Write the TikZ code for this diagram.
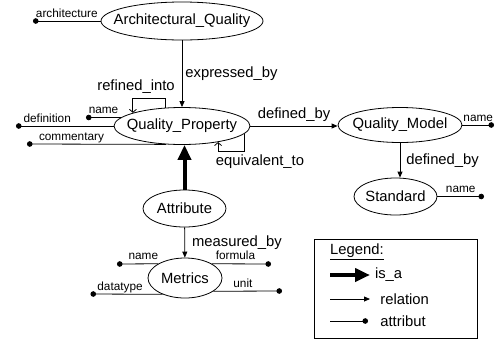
\documentclass[tikz,border=0pt]{standalone}
\usepackage{fontspec}
\setmainfont{Liberation Sans}
\usetikzlibrary{arrows.meta, shapes.geometric}
\newcommand{\bigf}{\fontsize{14.8}{17}\selectfont}
\newcommand{\smallf}{\fontsize{11.8}{13}\selectfont}
\newcommand{\ctext}[1]{\makebox[0pt]{#1}}
\tikzset{
  entity/.style={draw, ellipse, inner sep=0pt, line width=0.8pt, font=\bigf},
  rel/.style={-{Triangle[length=6pt,width=5pt]}, line width=0.8pt},
  isa/.style={-{Triangle[length=15pt,width=13pt]}, line width=4pt},
  selfrel/.style={-{Straight Barb[length=3pt,width=7pt]}, line width=0.8pt},
  attrib/.style={-{Circle[length=5.5pt]}, line width=0.8pt},
  rlabel/.style={font=\bigf, inner sep=3pt},
  alabel/.style={font=\smallf, inner sep=0pt, text depth=0pt, anchor=south, yshift=3.5pt},
}

\begin{document}
\begin{tikzpicture}[x=1pt, y=-1pt]
        \useasboundingbox (0,0) rectangle (496,341);

        % entities
        \node[entity, minimum width=162, minimum height=38] (arch) at (182,21) {\ctext{Architectural\_Quality}};
        \node[entity, minimum width=136, minimum height=37] (qprop) at (182,126) {\ctext{Quality\_Property}};
        \node[entity, minimum width=124, minimum height=35] (qmodel) at (400,125) {\ctext{Quality\_Model}};
        \node[entity, minimum width=83, minimum height=37] (std) at (395.5,196.5) {\ctext{Standard}};
        \node[entity, minimum width=83, minimum height=37] (attr) at (184.5,208.5) {\ctext{Attribute}};
        \node[entity, minimum width=74, minimum height=40] (metrics) at (185,278) {\ctext{Metrics}};

        % relations
        \draw[rel] (arch) -- node[rlabel, right] {expressed\_by} (qprop);
        \draw[rel] (qprop.east) -- node[rlabel, above, text depth=0pt, yshift=4pt] {defined\_by} (qprop.east -| qmodel.west);
        \draw[rel] (qmodel.south) -- node[rlabel, right, xshift=3pt] {defined\_by} (qmodel.south |- std.north);
        \draw[rel] (attr) -- node[rlabel, right, xshift=4pt] {measured\_by} (metrics);
        \draw[isa] (attr.north) -- (attr.north |- qprop.south);

        \draw[selfrel] (qprop.132) -- ++(0,-9) -| (qprop.165);
        \node[rlabel] (refl) at (136,87) {refined\_into};
        \draw[selfrel] (qprop.-7) -- ++(0,17.5) -| (qprop.-24);
        \node[rlabel] (equl) at (260,162) {equivalent\_to};

        % attributes
        \coordinate (archdot) at (33,21);
        \coordinate (qpname) at (86,117.5);
        \coordinate (qpdef) at (16,126);
        \coordinate (qpcom) at (27,144);
        \coordinate (qmname) at (494,125);
        \coordinate (stdname) at (484,196.5);
        \coordinate (mname) at (117,264);
        \coordinate (mtype) at (90.5,294);
        \coordinate (mform) at (271,264);
        \coordinate (munit) at (282,291);

        \draw[attrib] (arch.west) -- node[alabel] {architecture} (archdot);
        \draw[attrib] (qprop.172) -- node[alabel] {name} (qpname);
        \draw[attrib] (qprop.west) -- node[alabel, pos=.68] {definition} (qpdef);
        \draw[attrib] (qprop.-131) -- node[alabel, pos=.68] {commentary} (qpcom);
        \draw[attrib] (qmodel.east) -- node[alabel] {name} (qmname);
        \draw[attrib] (std.east) -- node[alabel] {name} (stdname);
        \draw[attrib] (metrics.152) -- node[alabel, pos=.36] {name} (mname);
        \draw[attrib] (metrics.-144) -- node[alabel, pos=.59] {datatype} (mtype);
        \draw[attrib] (metrics.28) -- node[alabel, pos=.4] {formula} (mform);
        \draw[attrib] (metrics.-25) -- node[alabel, pos=.43] {unit} (munit);

        % legend
        \draw[line width=0.8pt] (314,239) rectangle (477,338);
        \node[rlabel, anchor=west] (legt) at (327,252) {\underline{Legend:}};
        \coordinate (isaA) at (330,275);
        \coordinate (isaB) at (370,275);
        \coordinate (relA) at (330,299);
        \coordinate (relB) at (370,299);
        \coordinate (atA) at (330,321);
        \coordinate (atB) at (368,321);
        \draw[isa] (isaA) -- (isaB) node[rlabel, right] (isal) {is\_a};
        \draw[rel] (relA) -- (relB) node[rlabel, right, xshift=7pt] (rell) {relation};
        \draw[attrib] (atA) -- (atB) node[rlabel, right, xshift=9pt] (atl) {attribut};
\end{tikzpicture}
\end{document}
